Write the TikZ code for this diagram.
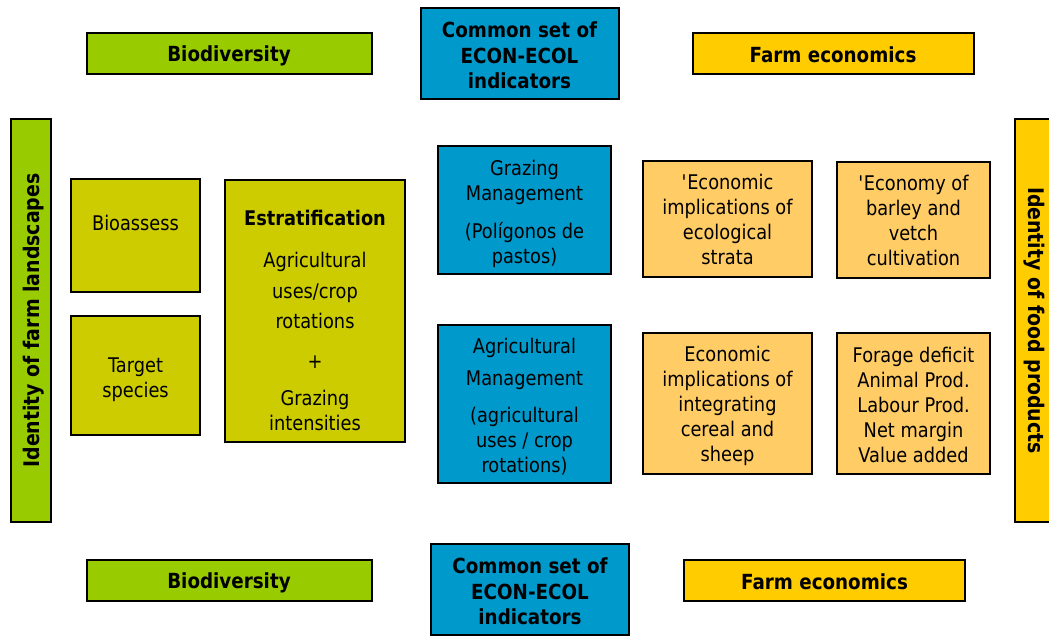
\documentclass[tikz,border=0pt]{standalone}
\usepackage{fontspec}
\setmainfont{DejaVu Sans}[FakeStretch=0.88]
\definecolor{biogreen}{HTML}{99CC00}
\definecolor{olivebox}{HTML}{CCCC00}
\definecolor{indblue}{HTML}{0099CC}
\definecolor{farmyellow}{HTML}{FFCC00}
\definecolor{ecoorange}{HTML}{FFCC66}
% empty first line, pushes the text of a box a little down
\newcommand{\toppad}[1]{\mbox{}\\[#1]}

\begin{document}
\begin{tikzpicture}[x=1pt,y=-1pt,
    box/.style={draw,line width=2pt,inner sep=0pt,align=center,
      font=\fontsize{20.2}{25}\selectfont},
    headbox/.style={box,font=\fontsize{20.8}{25.5}\selectfont\bfseries},
    sidebar/.style={box,font=\fontsize{21.5}{25.5}\selectfont\bfseries,minimum width=403,minimum height=40},
  ]
  \useasboundingbox (0,0) rectangle (1049,635);

  % header and footer rows: name / y / x of indicators box / y of indicators box / x of farm box
  \foreach \nm/\y/\ix/\iy/\fx in {top/53.5/519.5/53/833, bot/580.5/530/589/824.5} {
    \node[headbox,fill=biogreen,minimum width=285,minimum height=41] (bio\nm) at (229,\y) {\toppad{-5pt}Biodiversity};
    \node[headbox,fill=indblue,minimum width=198,minimum height=91] (ind\nm) at (\ix,\iy) {\toppad{-5pt}Common set of\\ECON-ECOL\\indicators};
    \node[headbox,fill=farmyellow,minimum width=281,minimum height=41] (farm\nm) at (\fx,\y) {\toppad{-7pt}Farm economics};
  }

  % side bars
  \node[sidebar,fill=biogreen,rotate=90] (landscapes) at (31,320.5) {\toppad{-4pt}Identity of farm landscapes};
  \node[sidebar,fill=farmyellow,rotate=-90] (foods) at (1035,320.5) {\toppad{-7pt}Identity of food products};

  % ecological column
  \node[box,fill=olivebox,minimum width=129,minimum height=113] (bioassess) at (135.5,235.5) {Bioassess\\ \mbox{}};
  \node[box,fill=olivebox,minimum width=129,minimum height=119] (target) at (135.5,375.5) {\toppad{-1pt}Target\\species};
  \node[box,fill=olivebox,minimum width=180,minimum height=262] (strat) at (315,310.5)
    {\toppad{11pt}{\bfseries Estratification}\\[17pt]Agricultural\\[6pt]uses/crop\\[5pt]rotations\\[15pt]+\\[12pt]Grazing\\intensities};

  % management column
  \node[box,fill=indblue,minimum width=173,minimum height=128] (grazing) at (524.5,210)
    {\toppad{-2pt}Grazing\\Management\\[13pt](Polígonos de\\pastos)};
  \node[box,fill=indblue,minimum width=173,minimum height=158] (agri) at (524.5,404)
    {\toppad{-4pt}Agricultural\\[7pt]Management\\[12pt](agricultural\\uses / crop\\rotations)};

  % economic column
  \node[box,fill=ecoorange,minimum width=169,minimum height=116] (strata) at (727.5,219) {\toppad{-8pt}\textquotesingle Economic\\implications of\\ecological\\strata};
  \node[box,fill=ecoorange,minimum width=153,minimum height=116] (barley) at (913.5,220) {\textquotesingle Economy of\\barley and\\vetch\\cultivation};
  \node[box,fill=ecoorange,minimum width=169,minimum height=141] (sheep) at (727.5,403.5) {\toppad{-4pt}Economic\\implications of\\integrating\\cereal and\\sheep};
  \node[box,fill=ecoorange,minimum width=153,minimum height=141] (deficit) at (913.5,403.5) {\toppad{-6pt}Forage deficit\\Animal Prod.\\Labour Prod.\\Net margin\\Value added};

\end{tikzpicture}
\end{document}
